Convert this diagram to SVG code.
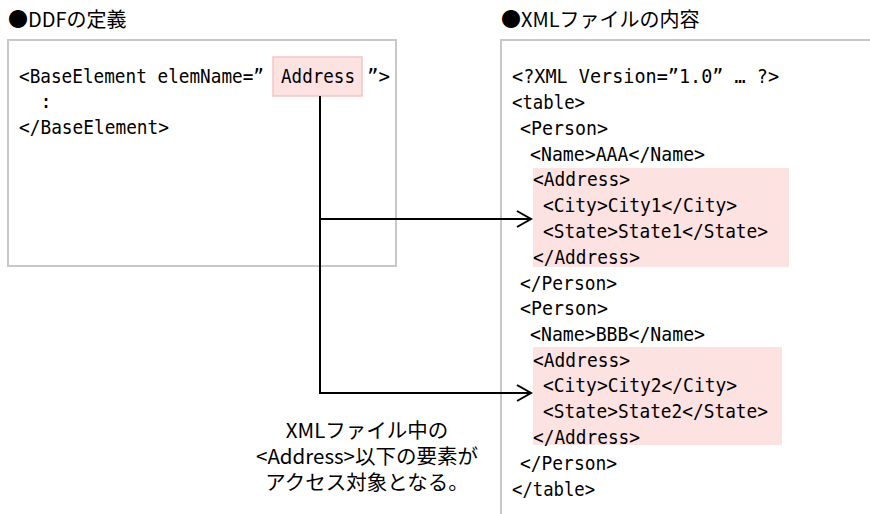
<svg xmlns="http://www.w3.org/2000/svg" width="870" height="514" viewBox="0 0 870 514">
<style>
.t{font-family:"DejaVu Sans Mono","Noto Sans CJK JP",monospace;font-size:20px;fill:#000}
.j{font-family:"Noto Sans CJK JP","DejaVu Sans",sans-serif;font-size:20px;fill:#000}
.n{font-family:"Noto Sans CJK JP","DejaVu Sans",sans-serif;font-size:20.5px;fill:#000}
.box{fill:#fff;stroke:#c8c8c8;stroke-width:2}
.hl{fill:#fde2e2}
.conn{fill:none;stroke:#000;stroke-width:2}
</style>
<rect width="870" height="514" fill="#fff"/>
<g id="title-ddf"><text class="j" x="8" y="27">●DDFの定義</text></g>
<g id="title-xml"><text class="j" x="501" y="27">●XMLファイルの内容</text></g>
<g id="ddf-box">
<rect class="box" x="8" y="40" width="388" height="226"/>
<rect x="273" y="57" width="89" height="39" fill="#fde2e2" stroke="#f7c4c4" stroke-width="1.5"/>
<text class="t" x="19" y="83" textLength="245" lengthAdjust="spacingAndGlyphs">&lt;BaseElement elemName=”</text>
<text class="t" x="281" y="83" textLength="74" lengthAdjust="spacingAndGlyphs">Address</text>
<text class="t" x="367" y="83" textLength="23" lengthAdjust="spacingAndGlyphs">”&gt;</text>
<text class="t" x="40" y="108">:</text>
<text class="t" x="19" y="134" textLength="150" lengthAdjust="spacingAndGlyphs">&lt;/BaseElement&gt;</text>
</g>
<g id="xml-box">
<path d="M870,40 H501 V514" fill="none" stroke="#c8c8c8" stroke-width="2"/>
<rect class="hl" x="533" y="168" width="256" height="99"/>
<rect class="hl" x="533" y="347" width="249" height="98"/>
<text class="t" x="512" y="83" textLength="267" lengthAdjust="spacingAndGlyphs">&lt;?XML Version=”1.0” … ?&gt;</text>
<text class="t" x="512" y="109" textLength="73" lengthAdjust="spacingAndGlyphs">&lt;table&gt;</text>
<text class="t" x="520" y="135" textLength="88" lengthAdjust="spacingAndGlyphs">&lt;Person&gt;</text>
<text class="t" x="530" y="161" textLength="175" lengthAdjust="spacingAndGlyphs">&lt;Name&gt;AAA&lt;/Name&gt;</text>
<text class="t" x="533" y="186" textLength="97" lengthAdjust="spacingAndGlyphs">&lt;Address&gt;</text>
<text class="t" x="543" y="212" textLength="194" lengthAdjust="spacingAndGlyphs">&lt;City&gt;City1&lt;/City&gt;</text>
<text class="t" x="543" y="238" textLength="225" lengthAdjust="spacingAndGlyphs">&lt;State&gt;State1&lt;/State&gt;</text>
<text class="t" x="533" y="264" textLength="107" lengthAdjust="spacingAndGlyphs">&lt;/Address&gt;</text>
<text class="t" x="520" y="290" textLength="97" lengthAdjust="spacingAndGlyphs">&lt;/Person&gt;</text>
<text class="t" x="520" y="315" textLength="88" lengthAdjust="spacingAndGlyphs">&lt;Person&gt;</text>
<text class="t" x="530" y="341" textLength="175" lengthAdjust="spacingAndGlyphs">&lt;Name&gt;BBB&lt;/Name&gt;</text>
<text class="t" x="533" y="367" textLength="97" lengthAdjust="spacingAndGlyphs">&lt;Address&gt;</text>
<text class="t" x="543" y="392" textLength="194" lengthAdjust="spacingAndGlyphs">&lt;City&gt;City2&lt;/City&gt;</text>
<text class="t" x="543" y="418" textLength="225" lengthAdjust="spacingAndGlyphs">&lt;State&gt;State2&lt;/State&gt;</text>
<text class="t" x="533" y="444" textLength="107" lengthAdjust="spacingAndGlyphs">&lt;/Address&gt;</text>
<text class="t" x="520" y="470" textLength="97" lengthAdjust="spacingAndGlyphs">&lt;/Person&gt;</text>
<text class="t" x="512" y="496" textLength="83" lengthAdjust="spacingAndGlyphs">&lt;/table&gt;</text>
</g>
<g id="connectors">
<path class="conn" d="M320,96 V393 H531"/>
<path class="conn" d="M320,219 H531"/>
<polyline class="conn" points="517,211 531,219 517,227"/>
<polyline class="conn" points="517,385 531,393 517,401"/>
</g>
<g id="note">
<text class="n" x="367" y="438" text-anchor="middle">XMLファイル中の</text>
<text class="n" x="367" y="464" text-anchor="middle">&lt;Address&gt;以下の要素が</text>
<text class="n" x="367" y="490" text-anchor="middle">アクセス対象となる。</text>
</g>
</svg>
